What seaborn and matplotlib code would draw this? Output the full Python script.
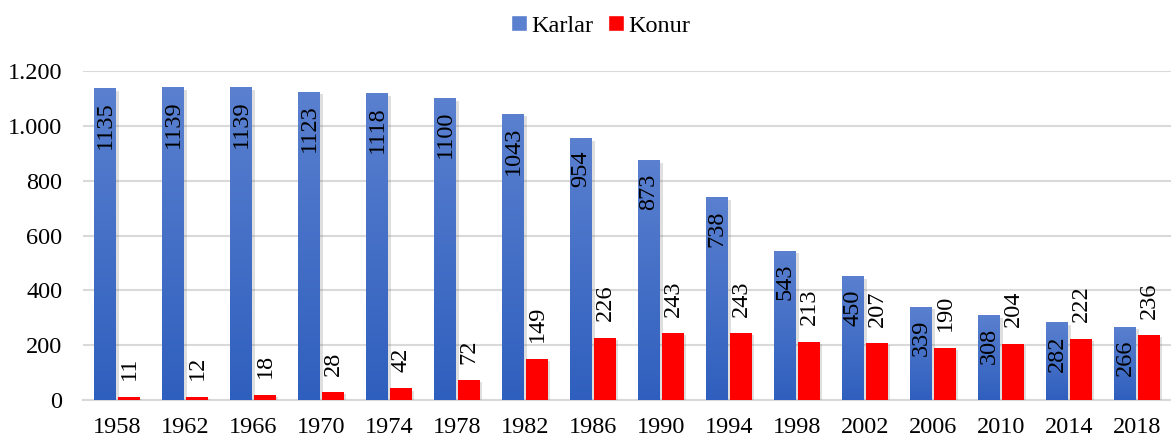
import numpy as np
import pandas as pd
import seaborn as sns
import matplotlib.pyplot as plt
import matplotlib.patheffects as pe
from matplotlib import font_manager
from matplotlib.patches import Patch
from matplotlib.ticker import FuncFormatter
from matplotlib.colors import LinearSegmentedColormap

years = ["1958", "1962", "1966", "1970", "1974", "1978", "1982", "1986",
         "1990", "1994", "1998", "2002", "2006", "2010", "2014", "2018"]
karlar = [1135, 1139, 1139, 1123, 1118, 1100, 1043, 954,
          873, 738, 543, 450, 339, 308, 282, 266]
konur = [11, 12, 18, 28, 42, 72, 149, 226,
         243, 243, 213, 207, 190, 204, 222, 236]
series_names = ["Karlar", "Konur"]

df = pd.DataFrame({
    "year": years * 2,
    "value": karlar + konur,
    "group": [series_names[0]] * len(years) + [series_names[1]] * len(years),
})

sns.set_style("white")

# make sure the Times-like serif is registered
for f in font_manager.findSystemFonts():
    if "LiberationSerif" in f.replace(" ", ""):
        try:
            font_manager.fontManager.addfont(f)
        except Exception:
            pass
plt.rcParams["font.family"] = ["Liberation Serif", "Times New Roman", "DejaVu Serif"]
plt.rcParams["text.color"] = "black"

FS = 17.5
blue_top = "#5a80cf"
blue_bot = "#2f5fbe"
red = "#ff0000"

fig = plt.figure(figsize=(11.71, 4.41), dpi=100)
ax = fig.add_axes([83 / 1171, 41 / 441, 1 - 83 / 1171, (400 - 71) / 441])

sns.barplot(data=df, x="year", y="value", hue="group",
            palette={"Karlar": blue_bot, "Konur": red},
            width=0.7, gap=0.1, saturation=1, legend=False, ax=ax,
            edgecolor="none", zorder=3)

ax.set_yticks(range(0, 1201, 200))
ax.yaxis.set_major_formatter(FuncFormatter(lambda v, p: f"{v:,.0f}".replace(",", ".")))
ax.grid(axis="y", color="#d9d9d9", linewidth=1.5, zorder=0)
ax.set_xlabel("")
ax.set_ylabel("")
for s in ["top", "right", "left"]:
    ax.spines[s].set_visible(False)
ax.spines["bottom"].set_color("#d9d9d9")
ax.spines["bottom"].set_linewidth(1.5)
ax.tick_params(axis="both", length=0, labelsize=FS, colors="black")
ax.tick_params(axis="x", pad=12)
ax.tick_params(axis="y", pad=15)

# soft shadow under every bar
shadow = [pe.SimplePatchShadow(offset=(2, -1.5), shadow_rgbFace="#808080", alpha=0.25),
          pe.Normal()]
for cont in ax.containers:
    for bar in cont:
        bar.set_path_effects(shadow)

# gradient fill on blue bars
cmap = LinearSegmentedColormap.from_list("bl", [blue_bot, blue_top])
grad = np.linspace(0, 1, 256).reshape(-1, 1)
for bar in ax.containers[0]:
    x0, w, h = bar.get_x(), bar.get_width(), bar.get_height()
    ax.imshow(grad, cmap=cmap, origin="lower", aspect="auto",
              extent=[x0, x0 + w, 0, h], zorder=3.5)
ax.set_xlim(-0.5, len(years) - 0.5)
ax.set_ylim(0, 1200)

# labels
for bar, v in zip(ax.containers[0], karlar):
    ax.annotate(str(v), (bar.get_x() + bar.get_width() / 2, bar.get_height()),
                xytext=(0, -9), textcoords="offset points", rotation=90,
                ha="center", va="top", fontsize=FS, zorder=5)
for bar, v in zip(ax.containers[1], konur):
    ax.annotate(str(v), (bar.get_x() + bar.get_width() / 2, bar.get_height()),
                xytext=(0, 12), textcoords="offset points", rotation=90,
                ha="center", va="bottom", fontsize=FS, zorder=5)

handles = [Patch(facecolor=blue_top, label=series_names[0]),
           Patch(facecolor=red, label=series_names[1])]
fig.legend(handles=handles, loc="upper center", bbox_to_anchor=(0.513, 1.015),
           ncol=2, frameon=False, fontsize=FS, handlelength=0.65, handleheight=0.65,
           handletextpad=0.2, columnspacing=0.6)

fig.savefig("out.png", dpi=100)
